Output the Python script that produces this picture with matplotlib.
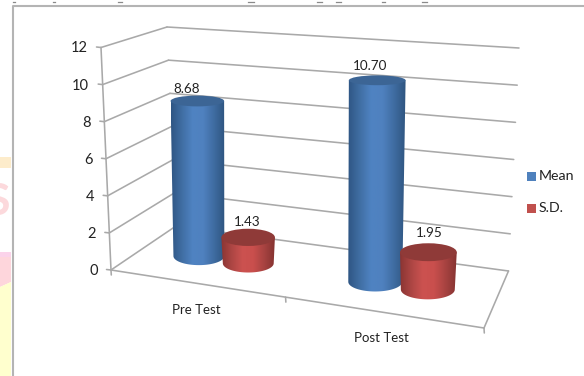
import numpy as np
import matplotlib
matplotlib.use("Agg")
import matplotlib.pyplot as plt
from matplotlib.colors import LinearSegmentedColormap
from matplotlib.patches import Ellipse, PathPatch, Polygon, Rectangle
from matplotlib.path import Path

plt.rcParams["font.family"] = ["Lato", "DejaVu Sans"]

# Chart data
categories = ["Pre Test", "Post Test"]
mean_values = [8.68, 10.70]
sd_values = [1.43, 1.95]
y_ticks = [0, 2, 4, 6, 8, 10, 12]
series_names = ["Mean", "S.D."]

W, H = 584, 376
fig = plt.figure(figsize=(W / 100, H / 100), dpi=100)
ax = fig.add_axes([0, 0, 1, 1])
ax.set_xlim(0, W)
ax.set_ylim(H, 0)
ax.axis("off")

# Corners of the 3D plot box on the canvas, keyed by (right, back, top)
CORNERS = {
    (0, 0, 0): (111.0, 270.0), (0, 0, 1): (101.0, 47.5),
    (0, 1, 0): (176.0, 226.0), (0, 1, 1): (167.0, 27.0),
    (1, 1, 0): (508.5, 271.0), (1, 1, 1): (519.0, 48.0),
    (1, 0, 0): (484.0, 328.0), (1, 0, 1): (490.0, 83.0),
}
V_MAX = 12.0


def project(u, d, v):
    """Trilinear projection: u across the categories, d into the depth, v is the value."""
    t = v / V_MAX
    p = np.zeros(2)
    for (a, b, c), xy in CORNERS.items():
        w = (u if a else 1 - u) * (d if b else 1 - d) * (t if c else 1 - t)
        p += w * np.array(xy)
    return p


GRID = "#a9a9a9"
GLW = 1.15
TEXT = "#222222"


def seg(p, q, color=GRID, lw=GLW, z=2):
    ax.plot([p[0], q[0]], [p[1], q[1]], color=color, lw=lw, zorder=z,
            solid_capstyle="round")


# Page background scraps along the left margin
ax.add_patch(Rectangle((0, 157), 11, 11, fc="#fdeccb", ec="none", zorder=1))
ax.add_patch(Rectangle((0, 252), 11, 5, fc="#fbd3ea", ec="none", zorder=1))
ax.add_patch(Polygon([(0, 257), (11, 257), (11, 282), (0, 287)], fc="#fed6dc", ec="none", zorder=1))
ax.add_patch(Polygon([(0, 287), (11, 282), (11, 376), (0, 376)], fc="#ffffce", ec="none", zorder=1))
s_txt = ax.text(-14, 202, "S", fontsize=32, fontweight="bold", color="#fcd9dc", ha="left",
                va="center", zorder=1, clip_on=True)
s_txt.set_clip_path(Rectangle((0, 170), 11, 60, transform=ax.transData))

# Outer frame of the picture
ax.plot([12.7, 12.7, W], [H, 6.2, 6.2], color="#b4b4b4", lw=1.5, zorder=1.5)

# Remnants of the line of text cut off above the frame
for x0, x1 in [(13, 15), (53, 55), (118, 122), (248, 254), (317, 322), (336, 341), (382, 385), (422, 427)]:
    ax.plot([x0, x1], [2.3, 2.3], color="#8a8a8a", lw=0.9, zorder=1.5)

# Gridlines on the side wall and the back wall
for v in y_ticks:
    seg(project(0, 0, v), project(0, 1, v))
    seg(project(0, 1, v), project(1, 1, v))
    left = project(0, 0, v)
    seg(left, left + np.array([-4.5, -0.5]))

# Axis frame
seg(project(0, 0, 0), project(0, 0, V_MAX))
seg(project(0, 0, 0), project(1, 0, 0))
seg(project(1, 0, 0), project(1, 1, 0))
for u in (0, 0.468, 1):
    p = project(u, 0, 0)
    seg(p, p + np.array([0.3, 5]))

# Value axis labels
for v in y_ticks:
    p = project(0, 0, v)
    ax.text(p[0] - 13.5, p[1] + 1.0, str(v), fontsize=10.5, color=TEXT,
            ha="right", va="center", zorder=6)

# Category labels
for label, (x, y) in zip(categories, [(196, 310.5), (381.5, 338.5)]):
    ax.text(x, y, label, fontsize=9.5, color=TEXT, ha="center", va="center", zorder=6)

BLUE = LinearSegmentedColormap.from_list("blue_cyl", ["#2f5684", "#406ea3", "#4f83c2", "#4f81bf", "#3f6ca1", "#2f5580"])
RED = LinearSegmentedColormap.from_list("red_cyl", ["#8a3533", "#ad4644", "#cc5250", "#c94f4d", "#a84341", "#853331"])
BLUE_CAP = "#3c6595"
RED_CAP = "#8f3a38"


def flatness(y):
    """Half height of a cylinder's ellipse, which opens up lower on the canvas."""
    return 4.2 + 0.0235 * (y - 50)


def cylinder(u, value, half_u, cmap, cap, z):
    base = project(u, 0.5, 0)
    top = project(u, 0.5, value)
    # Cylinders lean less than the box edges do
    top[0] = base[0] + (value / V_MAX) * (-3.45 + 8.6 * u)
    rb = half_u * 352.0 * 0.97
    rt = half_u * 352.0 * 1.02
    hb, ht = flatness(base[1]), flatness(top[1])
    th = np.linspace(np.pi, 0, 50)
    lower = np.column_stack([base[0] + rb * np.cos(th), base[1] + hb * np.sin(th)])
    verts = np.vstack([[top[0] - rt, top[1]], lower, [top[0] + rt, top[1]], [top[0] - rt, top[1]]])
    body = PathPatch(Path(verts), fc="none", ec="none", transform=ax.transData, zorder=z)
    ax.add_patch(body)
    grad = np.linspace(0, 1, 128)[None, :]
    x0, x1 = min(top[0] - rt, base[0] - rb), max(top[0] + rt, base[0] + rb)
    im = ax.imshow(grad, cmap=cmap, extent=[x0, x1, base[1] + hb + 1, top[1] - 1],
                   aspect="auto", zorder=z, interpolation="bilinear")
    im.set_clip_path(body)
    ax.add_patch(Ellipse(top, 2 * rt, 2 * ht, fc=cap, ec="none", zorder=z + 0.1))
    return top, ht


HALF_U = [0.0745, 0.079]
MEAN_POS = [0.157, 0.657]
SD_POS = [0.297, 0.806]
MEAN_LABEL_OFFSET = [(-11, -7), (-7, -9)]
SD_LABEL_OFFSET = [(-1, -7), (1, -10)]

ax.autoscale(False)
for i in range(len(categories)):
    top, ht = cylinder(MEAN_POS[i], mean_values[i], HALF_U[i], BLUE, BLUE_CAP, 3 + i)
    dx, dy = MEAN_LABEL_OFFSET[i]
    ax.text(top[0] + dx, top[1] - ht + dy, f"{mean_values[i]:.2f}", fontsize=9.7,
            color=TEXT, ha="center", va="center", zorder=7)
    top, ht = cylinder(SD_POS[i], sd_values[i], HALF_U[i], RED, RED_CAP, 3.5 + i)
    dx, dy = SD_LABEL_OFFSET[i]
    ax.text(top[0] + dx, top[1] - ht + dy, f"{sd_values[i]:.2f}", fontsize=9.7,
            color=TEXT, ha="center", va="center", zorder=7)

# Legend
for name, color, y in zip(series_names, ["#4f81bd", "#c0504d"], [176, 208]):
    ax.add_patch(Rectangle((527, y - 4.5), 9, 9, fc=color, ec="none", zorder=6))
    ax.text(539, y, name, fontsize=10.2, color=TEXT, ha="left", va="center", zorder=6)

fig.savefig("out.png", dpi=100)
